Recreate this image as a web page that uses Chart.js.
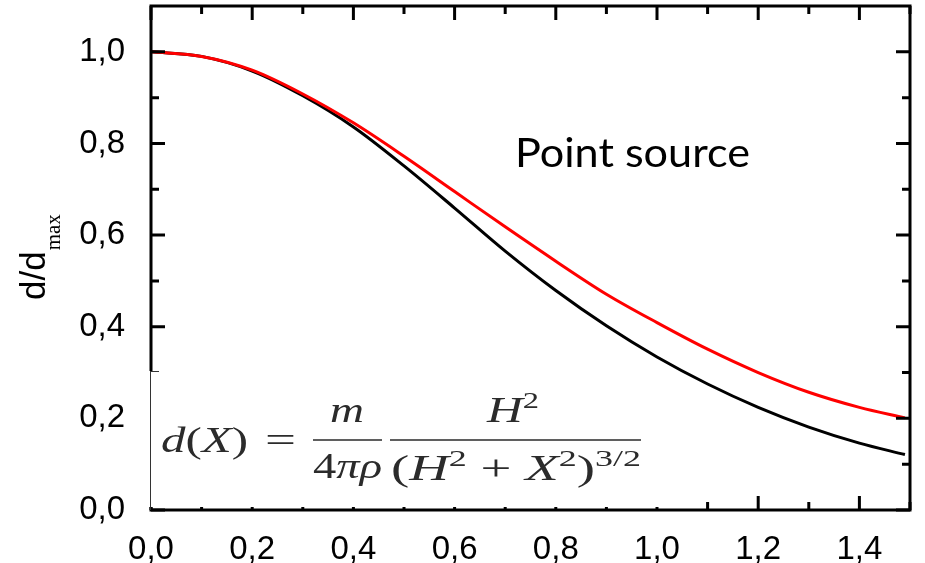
<!DOCTYPE html>
<html>
<head>
<meta charset="utf-8">
<script src="https://cdn.jsdelivr.net/npm/chart.js@4/dist/chart.umd.min.js"></script>
<style>
  html, body { margin: 0; padding: 0; background: #fff; }
  canvas { display: block; }
</style>
</head>
<body>
<canvas id="chart" width="925" height="563"></canvas>
<script>
// values
const xValues = [0, 0.1, 0.2, 0.3, 0.4, 0.5, 0.6, 0.7, 0.8, 0.9, 1.0, 1.1, 1.2, 1.3, 1.4, 1.49];
const blackValues = [1.0, 0.99, 0.958, 0.904, 0.836, 0.751, 0.659, 0.565, 0.479, 0.402, 0.334, 0.275, 0.224, 0.181, 0.146, 0.121];
const redValues = [1.0, 0.99, 0.96, 0.908, 0.845, 0.772, 0.695, 0.618, 0.543, 0.471, 0.409, 0.351, 0.300, 0.257, 0.224, 0.201];
const xTicks = [0, 0.2, 0.4, 0.6, 0.8, 1.0, 1.2, 1.4];
const yTicks = [0, 0.2, 0.4, 0.6, 0.8, 1.0];

const fmt = v => v.toFixed(1).replace('.', ',');
const serif = '"Liberation Serif", "DejaVu Serif", serif';

function points(ys) {
    return xValues.map((x, i) => ({x: x, y: ys[i]}));
}

// draws a run of pieces [text, size, italic, dy] squeezed/stretched to fit x0..x1
function run(ctx, parts, x0, x1, base, family) {
    let total = 0;
    parts.forEach(p => {
        ctx.font = (p[2] ? 'italic ' : '') + p[1] + 'px ' + family;
        total += ctx.measureText(p[0]).width;
    });
    const k = (x1 - x0) / total;
    ctx.save();
    ctx.translate(x0, base);
    ctx.scale(k, 1);
    let x = 0;
    parts.forEach(p => {
        ctx.font = (p[2] ? 'italic ' : '') + p[1] + 'px ' + family;
        ctx.fillText(p[0], x, p[3] || 0);
        x += ctx.measureText(p[0]).width;
    });
    ctx.restore();
}

// frame with inward ticks on all sides, minor ticks halfway
const framePlugin = {
    id: 'frame',
    afterDatasetsDraw(chart) {
        const ctx = chart.ctx;
        const a = chart.chartArea;
        const xs = chart.scales.x, ys = chart.scales.y;
        ctx.save();
        ctx.strokeStyle = '#000';
        ctx.lineWidth = 3;
        ctx.strokeRect(a.left, a.top, a.right - a.left, a.bottom - a.top);
        ctx.beginPath();
        xTicks.forEach(v => {
            [[v, 14], [v + 0.1, 8]].forEach(([t, len]) => {
                if (t > xs.max) return;
                const px = xs.getPixelForValue(t);
                ctx.moveTo(px, a.bottom); ctx.lineTo(px, a.bottom - len);
                ctx.moveTo(px, a.top); ctx.lineTo(px, a.top + len);
            });
        });
        yTicks.forEach(v => {
            [[v, 14], [v + 0.1, 8]].forEach(([t, len]) => {
                if (t >= ys.max) return;
                const py = ys.getPixelForValue(t);
                ctx.moveTo(a.left, py); ctx.lineTo(a.left + len, py);
                ctx.moveTo(a.right, py); ctx.lineTo(a.right - len, py);
            });
        });
        ctx.stroke();
        ctx.restore();
    },
    afterDraw(chart) {
        const ctx = chart.ctx;
        const a = chart.chartArea;
        ctx.save();

        // y title d/d_max
        ctx.fillStyle = '#000';
        ctx.translate(45, 300);
        ctx.rotate(-Math.PI / 2);
        ctx.font = '35px "Liberation Sans", Arial, sans-serif';
        ctx.textBaseline = 'alphabetic';
        ctx.fillText('d/d', 0, 0);
        const w = ctx.measureText('d/d').width;
        ctx.font = '21px "Liberation Serif", "Times New Roman", serif';
        ctx.fillText('max', w + 1, 15);
        ctx.setTransform(1, 0, 0, 1, 0, 0);

        // label
        run(ctx, [['Point source', 41, false]], 515, 750, 167, 'Lato, "Open Sans", sans-serif');

        // formula box
        ctx.fillStyle = '#fff';
        ctx.fillRect(a.left - 2, 371, 512, 136);
        ctx.strokeStyle = '#333';
        ctx.lineWidth = 1;
        ctx.beginPath();
        ctx.moveTo(a.left - 0.5, 371); ctx.lineTo(a.left - 0.5, a.bottom);
        ctx.moveTo(a.left - 0.5, 371.5); ctx.lineTo(a.left + 8, 371.5);
        ctx.stroke();

        const ink = '#2b2b2b';
        ctx.fillStyle = ink;
        run(ctx, [['d', 35, true], ['(', 35, false], ['X', 35, true], [')', 35, false]], 161, 248, 452, serif);
        run(ctx, [['=', 35, false]], 265, 296, 452, serif);
        run(ctx, [['m', 35, true]], 330, 364, 422, serif);
        run(ctx, [['4', 35, false], ['πρ', 35, true]], 313, 382, 478, serif);
        run(ctx, [['H', 35, true], ['2', 23, false, -14]], 487, 539, 422, serif);
        run(ctx, [['(', 35, false], ['H', 35, true], ['2', 23, false, -14], [' + ', 35, false],
                  ['X', 35, true], ['2', 23, false, -14], [')', 35, false], ['3/2', 23, false, -14]],
            391, 641, 480, serif);
        ctx.strokeStyle = ink;
        ctx.lineWidth = 1.5;
        ctx.beginPath();
        ctx.moveTo(313, 440); ctx.lineTo(382, 440);
        ctx.moveTo(390, 440); ctx.lineTo(641, 440);
        ctx.stroke();
        ctx.restore();
    }
};

new Chart(document.getElementById('chart'), {
    type: 'line',
    data: {
        datasets: [{
            label: 'red',
            data: points(redValues),
            borderColor: '#ff0000',
            borderWidth: 3,
            pointRadius: 0,
            cubicInterpolationMode: 'monotone'
        }, {
            label: 'black',
            data: points(blackValues),
            borderColor: '#000000',
            borderWidth: 3,
            pointRadius: 0,
            cubicInterpolationMode: 'monotone'
        }]
    },
    options: {
        responsive: false,
        animation: false,
        devicePixelRatio: 1,
        layout: {padding: {top: 6, right: 15, left: 0, bottom: 0}},
        plugins: {
            legend: {display: false},
            tooltip: {enabled: false}
        },
        scales: {
            x: {
                type: 'linear',
                min: 0,
                max: 1.5,
                grid: {display: false},
                border: {display: false},
                ticks: {
                    stepSize: 0.2,
                    includeBounds: false,
                    color: '#000',
                    font: {family: '"Liberation Sans", Arial, sans-serif', size: 33},
                    padding: 12,
                    maxRotation: 0,
                    callback: v => fmt(v)
                },
                afterFit: s => { s.height = 53; s.paddingLeft = 0; s.paddingRight = 0; }
            },
            y: {
                min: 0,
                max: 1.1,
                grid: {display: false},
                border: {display: false},
                ticks: {
                    stepSize: 0.2,
                    includeBounds: false,
                    color: '#000',
                    font: {family: '"Liberation Sans", Arial, sans-serif', size: 33},
                    padding: 18,
                    callback: v => fmt(v)
                },
                afterFit: s => { s.width = 151; s.paddingTop = 0; s.paddingBottom = 0; }
            }
        }
    },
    plugins: [framePlugin]
});
</script>
</body>
</html>
